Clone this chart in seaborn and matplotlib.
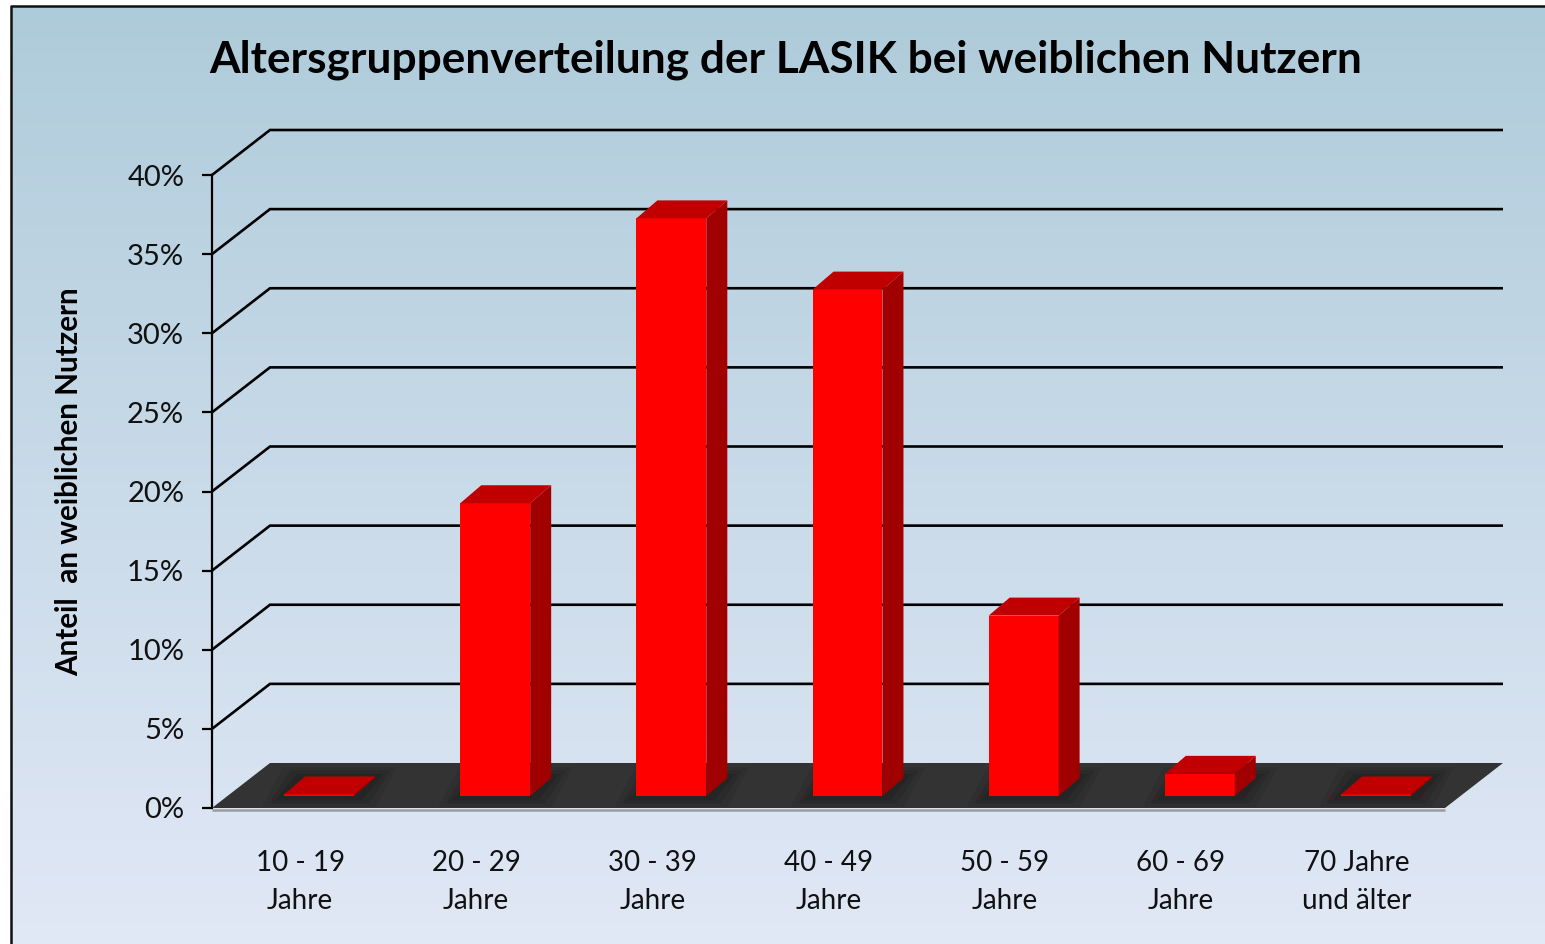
import numpy as np
import matplotlib
matplotlib.use("Agg")
import matplotlib.pyplot as plt
import seaborn as sns

# ---------------------- DATA ----------------------
age_labels = ["10 - 19\nJahre", "20 - 29\nJahre", "30 - 39\nJahre", "40 - 49\nJahre",
              "50 - 59\nJahre", "60 - 69\nJahre", "70 Jahre\nund älter"]
share_values = [0.1, 18.5, 36.5, 32.0, 11.4, 1.4, 0.1]
y_ticks = [0, 5, 10, 15, 20, 25, 30, 35, 40]
y_tick_labels = ["0%", "5%", "10%", "15%", "20%", "25%", "30%", "35%", "40%"]

title_text = "Altersgruppenverteilung der LASIK bei weiblichen Nutzern"
ylabel_text = "Anteil  an weiblichen Nutzern"

# ---------------------- LAYOUT (pixels) ----------------------
W, H = 1545, 944
X0, X1, Y0, Y40 = 212, 1445, 808, 175
PX_X = 7 / (X1 - X0)      # categories per pixel
PX_Y = 40 / (Y0 - Y40)    # percent per pixel
WALL_DX, WALL_DY = 58 * PX_X, 45 * PX_Y
BAR_DX, BAR_DY = 21 * PX_X, 18 * PX_Y
SHIFT_X, SHIFT_Y = 19, 12


def place(px_left, px_right, px_bottom, px_top):
    return [px_left / W, 1 - px_bottom / H, (px_right - px_left) / W, (px_bottom - px_top) / H]


sns.set_theme(style="white")
plt.rcParams["font.family"] = ["Lato", "DejaVu Sans"]

fig = plt.figure(figsize=(W / 100, H / 100), dpi=100, facecolor="white")

# ---------------------- BACKGROUND ----------------------
bg = fig.add_axes([0, 0, 1, 1], zorder=0)
top_col, bottom_col = np.array([174, 203, 218]), np.array([225, 232, 246])
ramp = np.linspace(0, 1, 256)[:, None, None] ** 0.95
bg.imshow((top_col + (bottom_col - top_col) * ramp) / 255, aspect="auto", extent=(11, W, H, 6))
bg.plot([11, 11, W], [H, 6, 6], color="#111111", lw=1.8)
bg.set_xlim(0, W)
bg.set_ylim(H, 0)
bg.axis("off")

# ---------------------- WALL, FLOOR, AXIS ----------------------
ax = fig.add_axes(place(X0, X1, Y0, Y40), zorder=1)
ax.patch.set_alpha(0)
ax.set_xlim(-0.5, 6.5)
ax.set_ylim(0, 40)
for name, spine in ax.spines.items():
    spine.set_visible(name == "left")
ax.spines["left"].set_color("black")
ax.spines["left"].set_linewidth(1.6)

for tick in y_ticks[1:]:
    ax.plot([-0.5, -0.5 + WALL_DX, 6.5 + WALL_DX], [tick, tick + WALL_DY, tick + WALL_DY],
            color="black", lw=1.9, clip_on=False, zorder=2, solid_joinstyle="miter",
            solid_capstyle="butt")

ax.fill([-0.5, -0.5 + WALL_DX, 6.5 + WALL_DX, 6.5], [0, WALL_DY, WALL_DY, 0],
        color="#333333", clip_on=False, zorder=3, lw=0)
ax.plot([-0.5, 6.5], [-0.1, -0.1], color="#9c9c9c", lw=1.8, clip_on=False, zorder=3,
        solid_capstyle="butt")

ax.set_yticks(y_ticks)
ax.set_yticklabels(y_tick_labels, fontsize=21, color="#111111")
ax.set_xticks(range(7))
ax.set_xticklabels(age_labels, fontsize=20, color="#111111", linespacing=1.6)
ax.tick_params(axis="y", left=True, length=7, width=1.6, color="black", pad=13)
ax.tick_params(axis="x", bottom=False, pad=24)

# ---------------------- BARS ----------------------
bar_ax = fig.add_axes(place(X0 + SHIFT_X, X1 + SHIFT_X, Y0 - SHIFT_Y, Y40 - SHIFT_Y), zorder=2)
sns.barplot(x=list(range(7)), y=share_values, ax=bar_ax, color="#FF0000", saturation=1,
            width=0.397, zorder=5, edgecolor="none", linewidth=0)
bar_ax.set_xlim(-0.5, 6.5)
bar_ax.set_ylim(0, 40)
bar_ax.axis("off")

for bar in list(bar_ax.patches):
    x, w, h = bar.get_x(), bar.get_width(), bar.get_height()
    r = x + w
    # soft shadow on the floor
    for grow, alpha in [(22, 0.10), (15, 0.14), (8, 0.2)]:
        gx, gy = grow * PX_X, grow * PX_Y * 0.5
        bar_ax.fill([x - gx, x + BAR_DX - gx, r + BAR_DX + gx, r + gx],
                    [-gy, BAR_DY + gy, BAR_DY + gy, -gy],
                    color="#111111", alpha=alpha, lw=0, clip_on=False, zorder=4)
    # right side and top of the block
    bar_ax.fill([r, r + BAR_DX, r + BAR_DX, r], [0, BAR_DY, h + BAR_DY, h],
                color="#A00000", lw=0, clip_on=False, zorder=6)
    bar_ax.fill([x, x + BAR_DX, r + BAR_DX, r], [h, h + BAR_DY, h + BAR_DY, h],
                color="#C00000", lw=0, clip_on=False, zorder=6)

# ---------------------- TEXT ----------------------
fig.text(785.5 / W, 1 - 60 / H, title_text, fontsize=31.8, fontweight="bold", color="black",
         ha="center", va="center")
fig.text(69 / W, 1 - 482 / H, ylabel_text, fontsize=21.3, fontweight="bold", color="black",
         rotation=90, ha="center", va="center")

fig.savefig("out.png", dpi=100)
